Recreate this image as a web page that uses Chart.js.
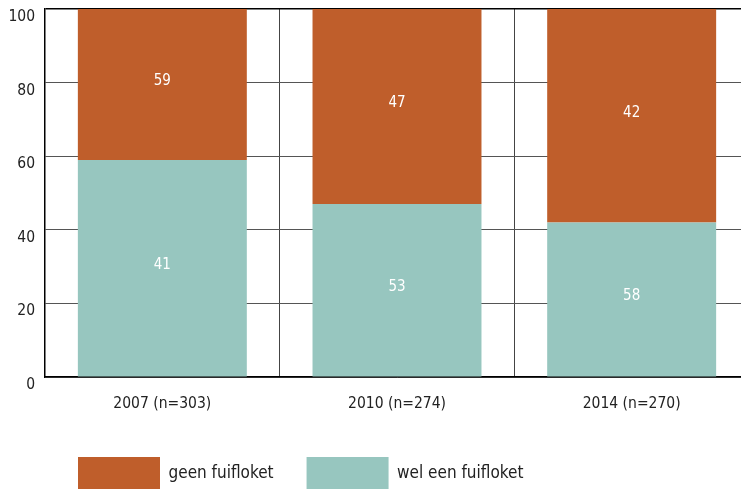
<!DOCTYPE html>
<html>
<head>
<meta charset="utf-8">
<script src="https://cdn.jsdelivr.net/npm/chart.js@4/dist/chart.umd.min.js"></script>
<style>
  html, body { margin: 0; padding: 0; background: #fff; overflow: hidden; }
  #wrap { width: 750px; height: 501px; position: relative; }
</style>
</head>
<body>
<div id="wrap"><canvas id="chart"></canvas></div>
<script>
// Daten (hoogtes zoals getekend, getallen zoals erin geschreven)
const categories = ["2007 (n=303)", "2010 (n=274)", "2014 (n=270)"];
const welHoogte = [59, 47, 42];
const geenHoogte = [41, 53, 58];
const welLabels = [41, 53, 58];
const geenLabels = [59, 47, 42];
const yTicks = [0, 20, 40, 60, 80, 100];

const fontFamily = "'Liberation Sans Narrow', 'DejaVu Sans Condensed', 'Roboto Condensed', sans-serif";

// Witte getallen midden in elk segment
const barLabels = {
  id: "barLabels",
  afterDatasetsDraw(chart) {
    const ctx = chart.ctx;
    ctx.save();
    ctx.fillStyle = "#ffffff";
    ctx.font = "15px " + fontFamily;
    ctx.textAlign = "center";
    ctx.textBaseline = "middle";
    chart.data.datasets.forEach((ds, i) => {
      chart.getDatasetMeta(i).data.forEach((bar, j) => {
        ctx.fillText(ds.valueLabels[j], bar.x, (bar.y + bar.base) / 2 - 3);
      });
    });
    ctx.restore();
  }
};

new Chart(document.getElementById("chart"), {
  type: "bar",
  data: {
    labels: categories,
    datasets: [
      { label: "wel een fuifloket", data: welHoogte, valueLabels: welLabels, backgroundColor: "#97c6bf", stack: "s" },
      { label: "geen fuifloket", data: geenHoogte, valueLabels: geenLabels, backgroundColor: "#bf5e2b", stack: "s" }
    ]
  },
  options: {
    responsive: true,
    maintainAspectRatio: false,
    animation: false,
    layout: { padding: { top: 9, right: 1, left: 0, bottom: 0 } },
    barPercentage: 0.72,
    categoryPercentage: 1,
    plugins: {
      tooltip: { enabled: false },
      legend: {
        position: "bottom",
        align: "start",
        fullSize: false,
        labels: {
          boxWidth: 82,
          boxHeight: 34,
          padding: 33,
          color: "#222",
          font: { family: fontFamily, size: 17 },
          // volgorde: geen eerst
          sort: (a, b) => b.datasetIndex - a.datasetIndex
        }
      }
    },
    scales: {
      x: {
        stacked: true,
        grid: { offset: true, color: "#444", drawTicks: false, tickLength: 0 },
        border: { color: "#000", width: 1.5 },
        ticks: { color: "#222", padding: 18, font: { family: fontFamily, size: 15.5 } },
        afterFit: (scale) => { scale.height = 47; scale.paddingLeft = 0; scale.paddingRight = 0; }
      },
      y: {
        stacked: true,
        min: 0,
        max: 100,
        afterBuildTicks: (scale) => { scale.ticks = yTicks.map(v => ({ value: v })); },
        grid: {
          color: (c) => c.tick && c.tick.value === 100 ? "#000" : "#555",
          lineWidth: (c) => c.tick && c.tick.value === 100 ? 1.5 : 1,
          drawTicks: false,
          tickLength: 0
        },
        border: { color: "#000", width: 1.5 },
        ticks: { color: "#222", padding: 10, labelOffset: 8, font: { family: fontFamily, size: 15.5 } },
        afterFit: (scale) => { scale.width = 45; scale.paddingTop = 0; scale.paddingBottom = 0; }
      }
    }
  },
  plugins: [barLabels]
});
</script>
</body>
</html>
